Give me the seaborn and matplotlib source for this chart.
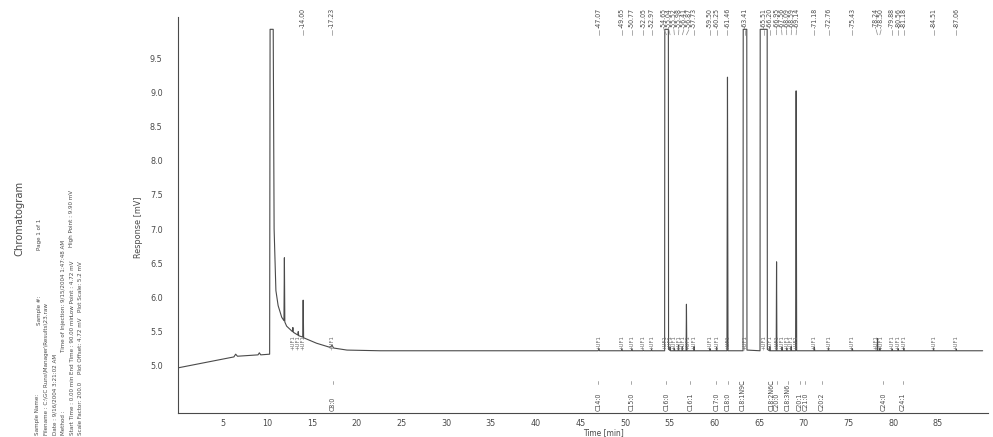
import numpy as np
import matplotlib
matplotlib.use("Agg")
import matplotlib.pyplot as plt
import seaborn as sns
from matplotlib import font_manager
from matplotlib.ticker import FixedLocator

# chromatogram trace (time in min, response in mV)
trace_min = [0.0, 6.25, 6.45, 6.65, 8.95, 9.1, 9.25, 10.25,
             10.3, 10.65, 10.75, 10.95, 11.2, 11.6, 11.85, 11.9, 11.95, 12.15,
             12.8, 12.85, 12.9, 13.4, 13.45, 13.5, 13.95, 14.0, 14.05, 15.5,
             17.0, 17.23, 17.4, 18.9, 22.6,
             47.0, 47.07, 47.15, 49.6, 49.65, 49.7, 50.72, 50.77, 50.82,
             52.0, 52.05, 52.1, 52.92, 52.97, 53.02,
             54.43, 54.45, 54.85, 54.87, 55.0, 55.04, 55.08, 55.48, 55.52, 55.56,
             55.94, 55.98, 56.02, 56.37, 56.41, 56.45, 56.83, 56.87, 56.91,
             57.69, 57.73, 57.77,
             59.46, 59.50, 59.54, 60.21, 60.25, 60.29, 61.40, 61.46, 61.52,
             63.2, 63.22, 63.62, 63.64,
             65.1, 65.12, 65.9, 65.92, 66.16, 66.20, 66.24, 66.91, 66.95, 66.99,
             67.52, 67.56, 67.60, 68.05, 68.09, 68.13, 68.55, 68.59, 68.63,
             69.08, 69.14, 69.20,
             71.14, 71.18, 71.22, 72.72, 72.76, 72.80, 75.39, 75.43, 75.47,
             78.2, 78.24, 78.28, 78.46, 78.5, 78.54, 79.84, 79.88, 79.92,
             80.52, 80.56, 80.60, 81.14, 81.18, 81.22, 84.47, 84.51, 84.55,
             87.02, 87.06, 87.10, 90.0]
trace_mv = [4.97, 5.13, 5.17, 5.14, 5.16, 5.19, 5.16, 5.17,
            9.92, 9.92, 7.0, 6.1, 5.88, 5.71, 5.66, 6.58, 5.64, 5.58,
            5.50, 5.56, 5.49, 5.45, 5.50, 5.44, 5.42, 5.96, 5.41, 5.33,
            5.27, 5.30, 5.26, 5.23, 5.22,
            5.22, 5.25, 5.22, 5.22, 5.24, 5.22, 5.22, 5.24, 5.22,
            5.22, 5.23, 5.22, 5.22, 5.24, 5.22,
            5.22, 9.92, 9.92, 5.24, 5.23, 5.27, 5.22, 5.22, 5.26, 5.22,
            5.22, 5.30, 5.22, 5.22, 5.28, 5.22, 5.22, 5.90, 5.22,
            5.22, 5.28, 5.22,
            5.22, 5.25, 5.22, 5.22, 5.27, 5.22, 5.22, 9.22, 5.22,
            5.22, 9.92, 9.92, 5.23,
            5.22, 9.92, 9.92, 5.24, 5.22, 5.28, 5.22, 5.22, 6.52, 5.22,
            5.22, 5.27, 5.22, 5.22, 5.26, 5.22, 5.22, 5.28, 5.22,
            5.22, 9.02, 5.22,
            5.22, 5.27, 5.22, 5.22, 5.26, 5.22, 5.22, 5.25, 5.22,
            5.22, 5.40, 5.22, 5.22, 5.26, 5.22, 5.22, 5.24, 5.22,
            5.22, 5.25, 5.22, 5.22, 5.26, 5.22, 5.22, 5.25, 5.22,
            5.22, 5.24, 5.22, 5.22]

# retention times printed along the top
top_rt = [14.00, 17.23, 47.07, 49.65, 50.77, 52.05, 52.97, 54.65, 55.04,
          55.52, 55.98, 56.41, 56.87, 57.73, 59.50, 60.25, 61.46, 63.41,
          65.51, 66.20, 66.95, 67.56, 68.09, 68.59, 69.14, 71.18, 72.76,
          75.43, 78.24, 78.50, 79.88, 80.56, 81.18, 84.51, 87.06]

# unidentified peak flags
uf_rt = [12.85, 13.45, 14.00, 17.23, 47.07, 49.65, 50.77, 52.05, 52.97,
         54.65, 55.04, 55.52, 55.98, 56.41, 56.87, 57.73, 59.50, 60.25,
         61.46, 63.41, 65.51, 66.20, 66.95, 67.56, 68.09, 68.59, 69.14,
         71.18, 72.76, 75.43, 78.24, 78.50, 79.88, 80.56, 81.18, 84.51, 87.06]

# reference (expected) components
ref_names = ["C8:0", "C14:0", "C15:0", "C16:0", "C16:1", "C17:0", "C18:0",
             "C18:1N9C", "C18:2N6C", "C20:0", "C18:3N6", "C20:1", "C21:0",
             "C20:2", "C24:0", "C24:1"]
ref_rt = [17.3, 47.0, 50.7, 54.6, 57.3, 60.2, 61.5, 63.2, 66.4, 67.0, 68.2,
          69.6, 70.1, 72.0, 78.9, 81.1]

y_major = [5.0, 5.5, 6.0, 6.5, 7.0, 7.5, 8.0, 8.5, 9.0, 9.5]

header_lines = [
    # (x px, bottom y px, text)
    (38, 435, "Sample Name:"),
    (40, 325, "Sample #:"),
    (40, 250, "Page 1 of 1"),
    (46.5, 435, "Filename : C:\\GC Runs\\Manager\\Results\\23.raw"),
    (55, 435, "Date : 9/16/2004 3:21:02 AM"),
    (63.5, 435, "Method :"),
    (63.5, 352, "Time of Injection: 9/15/2004 1:47:48 AM"),
    (72, 435, "Start Time : 0.00 min"),
    (72, 374, "End Time : 90.00 min"),
    (72, 316, "Low Point : 4.72 mV"),
    (72, 247, "High Point : 9.90 mV"),
    (80.5, 435, "Scale Factor: 200.0"),
    (80.5, 374, "Plot Offset: 4.72 mV"),
    (80.5, 312, "Plot Scale: 5.2 mV"),
]


def spread(pos, gap):
    """
    Push label positions apart so neighbours are at least gap apart,
    the way the printout staggers crowded labels.
    """
    p = np.array(pos, dtype=float)
    order = np.argsort(p)
    q = p[order]
    for _ in range(200):
        moved = False
        for i in range(1, len(q)):
            d = q[i] - q[i - 1]
            if d < gap - 1e-6:
                s = (gap - d) / 2
                q[i - 1] -= s
                q[i] += s
                moved = True
        if not moved:
            break
    out = np.empty_like(q)
    out[order] = q
    return out


def narrow_font(size):
    """
    Pick a condensed face if one is installed, the scan uses a narrow one.
    """
    for f in font_manager.fontManager.ttflist:
        fn = f.fname.replace(" ", "")
        if "LiberationSansNarrow-Regular" in fn:
            return font_manager.FontProperties(fname=f.fname, size=size)
    for f in font_manager.fontManager.ttflist:
        if f.fname.endswith("DejaVuSansCondensed.ttf"):
            return font_manager.FontProperties(fname=f.fname, size=size)
    return font_manager.FontProperties(family="DejaVu Sans", size=size)


sns.set_style("white")
plt.rcParams["font.family"] = ["DejaVu Sans"]

ink = "#4a4a4a"
W, H = 993, 437
fig = plt.figure(figsize=(W / 100, H / 100), dpi=100)
ax = fig.add_axes([178 / W, 1 - 413 / H, (988 - 178) / W, (413 - 17) / H])

sns.lineplot(x=np.array(trace_min), y=np.array(trace_mv), ax=ax, color=ink,
             linewidth=0.8, sort=False, estimator=None)

ax.set_xlim(0, 90.6)
ax.set_ylim(4.31, 10.10)

for s in ["top", "right"]:
    ax.spines[s].set_visible(False)
for s in ["left", "bottom"]:
    ax.spines[s].set_color(ink)
    ax.spines[s].set_linewidth(0.8)

tick_fp = narrow_font(6.5)
ax.yaxis.set_major_locator(FixedLocator(y_major))
ax.yaxis.set_minor_locator(FixedLocator(np.arange(4.8, 9.95, 0.1)))
ax.set_yticklabels([f"{v:.1f}" for v in y_major], fontproperties=tick_fp)
ax.xaxis.set_major_locator(FixedLocator(np.arange(5, 90, 5)))
ax.xaxis.set_minor_locator(FixedLocator(np.arange(1, 91, 1)))
ax.set_xticklabels([str(v) for v in range(5, 90, 5)], fontproperties=tick_fp)
ax.tick_params(axis="y", which="major", length=9, width=0.7, color=ink,
               labelcolor=ink, pad=2)
ax.tick_params(axis="y", which="minor", length=6, width=0.6, color=ink)
ax.tick_params(axis="x", which="major", direction="inout", length=10,
               width=0.7, color=ink, labelcolor=ink, pad=-1)
ax.tick_params(axis="x", which="minor", direction="inout", length=5,
               width=0.6, color=ink)
ax.set_xlabel("Time [min]", fontproperties=narrow_font(6), color=ink)
ax.xaxis.set_label_coords(0.525, -0.037)
ax.set_ylabel("Response [mV]", fontproperties=narrow_font(6.5), color=ink)
ax.yaxis.set_label_coords(-0.043, 0.47)

trans = ax.get_xaxis_transform()
small_fp = narrow_font(5)
# retention time labels on top
for rt, xp in zip(top_rt, spread(top_rt, 0.56)):
    ax.text(xp, 0.972, f"-{rt:.2f}", rotation=90, ha="center", va="bottom",
            fontproperties=small_fp, color=ink, transform=trans,
            clip_on=False)
    ax.plot([xp, rt], [0.968, 0.955], color="#8a8a8a", linewidth=0.5,
            transform=trans, clip_on=False)
# peak flags just above baseline
uf_fp = narrow_font(4.3)
for xp in spread(uf_rt, 0.5):
    ax.text(xp, 5.235, "+UF1", rotation=90, ha="center", va="bottom",
            fontproperties=uf_fp, color="#6a6a6a")
# expected component names along the bottom
for name, rt, xp in zip(ref_names, ref_rt, spread(ref_rt, 0.62)):
    ax.text(xp, 0.006, name, rotation=90, ha="center", va="bottom",
            fontproperties=small_fp, color=ink, transform=trans)
    ax.plot([rt, rt], [0.072, 0.082], color="#999999", linewidth=0.6,
            transform=trans)

# rotated page header
fig.text(19 / W, 1 - 218 / H, "Chromatogram", rotation=90, ha="center",
         va="center", fontproperties=narrow_font(8), color=ink)
head_fp = narrow_font(4.5)
for x, y, s in header_lines:
    fig.text(x / W, 1 - y / H, s, rotation=90, ha="center", va="bottom",
             fontproperties=head_fp, color=ink)

fig.savefig("out.png", dpi=100, facecolor="white")
